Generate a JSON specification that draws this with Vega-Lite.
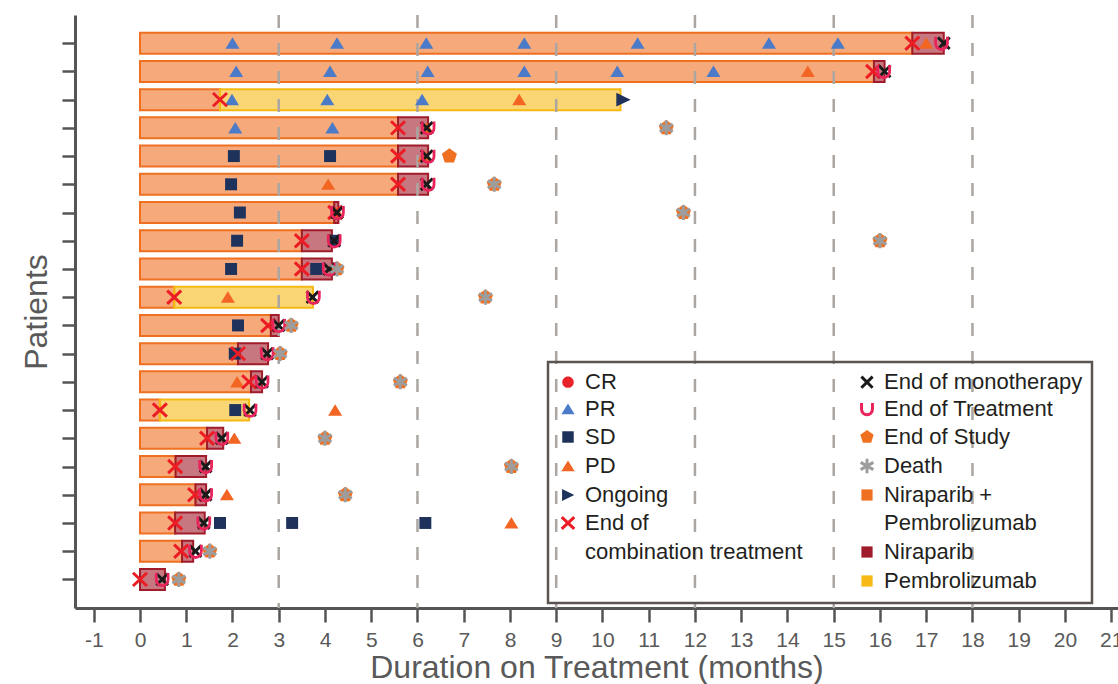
{
"$schema": "https://vega.github.io/schema/vega-lite/v6.json",
"autosize": "none",
"width": 1043,
"height": 593,
"padding": {"left": 75, "top": 15, "right": 0, "bottom": 76},
"background": "white",
"config": {"view": {"stroke": null}, "font": "Liberation Sans", "legend": {"strokeWidth": 2.5}},
"datasets": {
"bars": [
{"r":1,"s":0,"e":16.7,"k":"Niraparib + Pembrolizumab"},{"r":1,"s":16.7,"e":17.38,"k":"Niraparib"},
{"r":2,"s":0,"e":15.87,"k":"Niraparib + Pembrolizumab"},{"r":2,"s":15.87,"e":16.1,"k":"Niraparib"},
{"r":3,"s":0,"e":1.73,"k":"Niraparib + Pembrolizumab"},{"r":3,"s":1.73,"e":10.39,"k":"Pembrolizumab"},
{"r":4,"s":0,"e":5.58,"k":"Niraparib + Pembrolizumab"},{"r":4,"s":5.58,"e":6.23,"k":"Niraparib"},
{"r":5,"s":0,"e":5.58,"k":"Niraparib + Pembrolizumab"},{"r":5,"s":5.58,"e":6.23,"k":"Niraparib"},
{"r":6,"s":0,"e":5.58,"k":"Niraparib + Pembrolizumab"},{"r":6,"s":5.58,"e":6.23,"k":"Niraparib"},
{"r":7,"s":0,"e":4.2,"k":"Niraparib + Pembrolizumab"},{"r":7,"s":4.2,"e":4.29,"k":"Niraparib"},
{"r":8,"s":0,"e":3.5,"k":"Niraparib + Pembrolizumab"},{"r":8,"s":3.5,"e":4.15,"k":"Niraparib"},
{"r":9,"s":0,"e":3.5,"k":"Niraparib + Pembrolizumab"},{"r":9,"s":3.5,"e":4.15,"k":"Niraparib"},
{"r":10,"s":0,"e":0.74,"k":"Niraparib + Pembrolizumab"},{"r":10,"s":0.74,"e":3.74,"k":"Pembrolizumab"},
{"r":11,"s":0,"e":2.83,"k":"Niraparib + Pembrolizumab"},{"r":11,"s":2.83,"e":3.0,"k":"Niraparib"},
{"r":12,"s":0,"e":2.12,"k":"Niraparib + Pembrolizumab"},{"r":12,"s":2.12,"e":2.77,"k":"Niraparib"},
{"r":13,"s":0,"e":2.4,"k":"Niraparib + Pembrolizumab"},{"r":13,"s":2.4,"e":2.64,"k":"Niraparib"},
{"r":14,"s":0,"e":0.43,"k":"Niraparib + Pembrolizumab"},{"r":14,"s":0.43,"e":2.36,"k":"Pembrolizumab"},
{"r":15,"s":0,"e":1.45,"k":"Niraparib + Pembrolizumab"},{"r":15,"s":1.45,"e":1.8,"k":"Niraparib"},
{"r":16,"s":0,"e":0.77,"k":"Niraparib + Pembrolizumab"},{"r":16,"s":0.77,"e":1.43,"k":"Niraparib"},
{"r":17,"s":0,"e":1.2,"k":"Niraparib + Pembrolizumab"},{"r":17,"s":1.2,"e":1.43,"k":"Niraparib"},
{"r":18,"s":0,"e":0.76,"k":"Niraparib + Pembrolizumab"},{"r":18,"s":0.76,"e":1.4,"k":"Niraparib"},
{"r":19,"s":0,"e":0.91,"k":"Niraparib + Pembrolizumab"},{"r":19,"s":0.91,"e":1.15,"k":"Niraparib"},
{"r":20,"s":0,"e":0.54,"k":"Niraparib"}
],
"grid": [{"t":3},{"t":6},{"t":9},{"t":12},{"t":15},{"t":18}],
"events": [
{"r":1,"t":2.0,"k":"PR"},{"r":1,"t":4.26,"k":"PR"},{"r":1,"t":6.19,"k":"PR"},{"r":1,"t":8.31,"k":"PR"},{"r":1,"t":10.76,"k":"PR"},{"r":1,"t":13.6,"k":"PR"},{"r":1,"t":15.09,"k":"PR"},{"r":1,"t":17.0,"k":"PD"},{"r":1,"t":16.7,"k":"End of combination treatment"},{"r":1,"t":17.38,"k":"End of monotherapy"},{"r":1,"t":17.33,"k":"End of Treatment"},
{"r":2,"t":2.08,"k":"PR"},{"r":2,"t":4.11,"k":"PR"},{"r":2,"t":6.22,"k":"PR"},{"r":2,"t":8.31,"k":"PR"},{"r":2,"t":10.32,"k":"PR"},{"r":2,"t":12.4,"k":"PR"},{"r":2,"t":14.44,"k":"PD"},{"r":2,"t":15.85,"k":"End of combination treatment"},{"r":2,"t":16.1,"k":"End of monotherapy"},{"r":2,"t":16.08,"k":"End of Treatment"},
{"r":3,"t":1.73,"k":"End of combination treatment"},{"r":3,"t":1.99,"k":"PR"},{"r":3,"t":4.05,"k":"PR"},{"r":3,"t":6.1,"k":"PR"},{"r":3,"t":8.2,"k":"PD"},{"r":3,"t":10.45,"k":"Ongoing"},
{"r":4,"t":2.06,"k":"PR"},{"r":4,"t":4.16,"k":"PR"},{"r":4,"t":5.58,"k":"End of combination treatment"},{"r":4,"t":6.2,"k":"PD"},{"r":4,"t":6.2,"k":"End of monotherapy"},{"r":4,"t":6.23,"k":"End of Treatment"},{"r":4,"t":11.38,"k":"End of Study"},{"r":4,"t":11.38,"k":"Death"},
{"r":5,"t":2.03,"k":"SD"},{"r":5,"t":4.11,"k":"SD"},{"r":5,"t":5.58,"k":"End of combination treatment"},{"r":5,"t":6.15,"k":"PD"},{"r":5,"t":6.2,"k":"End of monotherapy"},{"r":5,"t":6.23,"k":"End of Treatment"},{"r":5,"t":6.69,"k":"End of Study"},
{"r":6,"t":1.97,"k":"SD"},{"r":6,"t":4.07,"k":"PD"},{"r":6,"t":5.58,"k":"End of combination treatment"},{"r":6,"t":6.2,"k":"End of monotherapy"},{"r":6,"t":6.23,"k":"End of Treatment"},{"r":6,"t":7.66,"k":"End of Study"},{"r":6,"t":7.66,"k":"Death"},
{"r":7,"t":2.16,"k":"SD"},{"r":7,"t":4.26,"k":"PD"},{"r":7,"t":4.22,"k":"End of combination treatment"},{"r":7,"t":4.26,"k":"End of monotherapy"},{"r":7,"t":4.27,"k":"End of Treatment"},{"r":7,"t":11.75,"k":"End of Study"},{"r":7,"t":11.75,"k":"Death"},
{"r":8,"t":2.1,"k":"SD"},{"r":8,"t":3.5,"k":"End of combination treatment"},{"r":8,"t":4.2,"k":"SD"},{"r":8,"t":4.2,"k":"End of monotherapy"},{"r":8,"t":4.2,"k":"End of Treatment"},{"r":8,"t":16.0,"k":"End of Study"},{"r":8,"t":16.0,"k":"Death"},
{"r":9,"t":1.97,"k":"SD"},{"r":9,"t":3.81,"k":"SD"},{"r":9,"t":3.5,"k":"End of combination treatment"},{"r":9,"t":4.09,"k":"End of monotherapy"},{"r":9,"t":4.09,"k":"End of Treatment"},{"r":9,"t":4.26,"k":"End of Study"},{"r":9,"t":4.26,"k":"Death"},
{"r":10,"t":0.74,"k":"End of combination treatment"},{"r":10,"t":1.9,"k":"PD"},{"r":10,"t":3.73,"k":"End of monotherapy"},{"r":10,"t":3.75,"k":"End of Treatment"},{"r":10,"t":7.47,"k":"End of Study"},{"r":10,"t":7.47,"k":"Death"},
{"r":11,"t":2.12,"k":"SD"},{"r":11,"t":2.77,"k":"End of combination treatment"},{"r":11,"t":3.0,"k":"End of monotherapy"},{"r":11,"t":3.0,"k":"End of Treatment"},{"r":11,"t":3.27,"k":"End of Study"},{"r":11,"t":3.27,"k":"Death"},
{"r":12,"t":2.05,"k":"SD"},{"r":12,"t":2.12,"k":"End of combination treatment"},{"r":12,"t":2.75,"k":"End of monotherapy"},{"r":12,"t":2.75,"k":"End of Treatment"},{"r":12,"t":3.03,"k":"End of Study"},{"r":12,"t":3.03,"k":"Death"},
{"r":13,"t":2.1,"k":"PD"},{"r":13,"t":2.36,"k":"End of combination treatment"},{"r":13,"t":2.64,"k":"End of monotherapy"},{"r":13,"t":2.64,"k":"End of Treatment"},{"r":13,"t":5.63,"k":"End of Study"},{"r":13,"t":5.63,"k":"Death"},
{"r":14,"t":0.43,"k":"End of combination treatment"},{"r":14,"t":2.06,"k":"SD"},{"r":14,"t":2.38,"k":"End of monotherapy"},{"r":14,"t":2.38,"k":"End of Treatment"},{"r":14,"t":4.22,"k":"PD"},
{"r":15,"t":1.45,"k":"End of combination treatment"},{"r":15,"t":1.77,"k":"End of monotherapy"},{"r":15,"t":1.77,"k":"End of Treatment"},{"r":15,"t":2.04,"k":"PD"},{"r":15,"t":4.0,"k":"End of Study"},{"r":15,"t":4.0,"k":"Death"},
{"r":16,"t":0.76,"k":"End of combination treatment"},{"r":16,"t":1.42,"k":"End of monotherapy"},{"r":16,"t":1.42,"k":"End of Treatment"},{"r":16,"t":8.03,"k":"End of Study"},{"r":16,"t":8.03,"k":"Death"},
{"r":17,"t":1.19,"k":"End of combination treatment"},{"r":17,"t":1.42,"k":"End of monotherapy"},{"r":17,"t":1.42,"k":"End of Treatment"},{"r":17,"t":1.88,"k":"PD"},{"r":17,"t":4.44,"k":"End of Study"},{"r":17,"t":4.44,"k":"Death"},
{"r":18,"t":0.76,"k":"End of combination treatment"},{"r":18,"t":1.38,"k":"End of monotherapy"},{"r":18,"t":1.38,"k":"End of Treatment"},{"r":18,"t":1.73,"k":"SD"},{"r":18,"t":3.29,"k":"SD"},{"r":18,"t":6.17,"k":"SD"},{"r":18,"t":8.03,"k":"PD"},
{"r":19,"t":0.89,"k":"End of combination treatment"},{"r":19,"t":1.2,"k":"End of monotherapy"},{"r":19,"t":1.2,"k":"End of Treatment"},{"r":19,"t":1.51,"k":"End of Study"},{"r":19,"t":1.51,"k":"Death"},
{"r":20,"t":0.0,"k":"End of combination treatment"},{"r":20,"t":0.48,"k":"End of monotherapy"},{"r":20,"t":0.48,"k":"End of Treatment"},{"r":20,"t":0.84,"k":"End of Study"},{"r":20,"t":0.84,"k":"Death"}
]
},
"layer": [
{
"data": {"name": "bars"},
"mark": {"type": "bar", "height": 21, "fillOpacity": 0.6, "opacity": 1},
"encoding": {
"x": {"field": "s", "type": "quantitative",
 "scale": {"domain": [-1.405, 21.147], "nice": false, "zero": false},
 "axis": {"title": "Duration on Treatment (months)", "values": [-1,0,1,2,3,4,5,6,7,8,9,10,11,12,13,14,15,16,17,18,19,20,21],
  "tickCount": 30, "labelExpr": "'' + datum.value", "grid": false, "tickSize": 14, "tickWidth": 2.5, "tickColor": "#555555",
  "domainColor": "#555555", "domainWidth": 3, "labelFontSize": 21, "labelColor": "#595959", "labelPadding": 7,
  "labelFont": "Liberation Sans", "titleFont": "Liberation Sans", "titleFontSize": 32, "titleFontWeight": "normal",
  "titleColor": "#595959", "titlePadding": 2, "labelFlush": false, "labelOverlap": false}},
"x2": {"field": "e"},
"y": {"field": "r", "type": "quantitative",
 "scale": {"domain": [0.178, 20.836], "reverse": true, "nice": false, "zero": false},
 "axis": {"title": "Patients", "values": [1,2,3,4,5,6,7,8,9,10,11,12,13,14,15,16,17,18,19,20],
  "tickCount": 25, "labels": false, "grid": false, "tickSize": 13, "tickWidth": 2.5, "tickColor": "#555555",
  "domainColor": "#555555", "domainWidth": 3, "titleFont": "Liberation Sans", "titleFontSize": 32,
  "titleFontWeight": "normal", "titleColor": "#595959", "titlePadding": 7}},
"fill": {"field": "k", "type": "nominal",
 "scale": {
  "domain": ["CR","PR","SD","PD","Ongoing","End of combination treatment","combination treatment","  ","End of monotherapy","End of Treatment","End of Study","Death","Niraparib + Pembrolizumab"," Pembrolizumab","Niraparib","Pembrolizumab"],
  "range": ["#E8232A","#4B7BC8","#1E325C","#F26522","#1E325C","#EC1C24","transparent","transparent","#1A1A1A","#E8245A","#F07022","#9D9D9D","#F07022","transparent","#A01C2A","#F7B916"]},
 "legend": {
  "title": null, "orient": "none", "legendX": 473, "legendY": 347, "columns": 2, "columnPadding": 51,
  "rowPadding": 3, "padding": 9, "strokeColor": "#5C5450", "labelFontSize": 22, "labelFont": "Liberation Sans",
  "labelColor": "#231F20", "labelLimit": 400, "symbolSize": 196, "symbolStrokeWidth": 3, "labelOffset": 6,
  "labelExpr": "datum.value === 'End of combination treatment' ? 'End of' : datum.value === 'Niraparib + Pembrolizumab' ? 'Niraparib +' : trim(datum.label)"
 }}
}
},
{
"data": {"name": "bars"},
"mark": {"type": "bar", "height": 21, "filled": false, "strokeWidth": 2, "opacity": 1},
"encoding": {
"x": {"field": "s", "type": "quantitative"},
"x2": {"field": "e"},
"y": {"field": "r", "type": "quantitative"},
"color": {"field": "k", "type": "nominal",
 "scale": {"domain": ["Niraparib + Pembrolizumab","Niraparib","Pembrolizumab"], "range": ["#F07022","#A01C2A","#F5B914"]},
 "legend": null}
}
},
{
"data": {"name": "grid"},
"mark": {"type": "rule", "strokeDash": [13, 15], "strokeWidth": 2.5, "color": "#ABA6A1"},
"encoding": {"x": {"field": "t", "type": "quantitative"}}
},
{
"data": {"name": "events"},
"transform": [{"filter": {"field": "k", "oneOf": ["PR", "PD"]}}],
"mark": {"type": "point", "size": 219, "opacity": 1, "strokeWidth": 0},
"encoding": {"x": {"field": "t", "type": "quantitative"}, "y": {"field": "r", "type": "quantitative"},
 "fill": {"field": "k", "type": "nominal"},
 "stroke": {"field": "k", "type": "nominal",
  "scale": {
   "domain": ["CR","PR","SD","PD","Ongoing","End of combination treatment","combination treatment","  ","End of monotherapy","End of Treatment","End of Study","Death","Niraparib + Pembrolizumab"," Pembrolizumab","Niraparib","Pembrolizumab"],
   "range": ["transparent","transparent","transparent","transparent","transparent","#EC1C24","transparent","transparent","#1A1A1A","#E8245A","transparent","#9D9D9D","transparent","transparent","transparent","transparent"]},
  "legend": {"title": null}},
 "shape": {"field": "k", "type": "nominal",
  "scale": {
   "domain": ["CR","PR","SD","PD","Ongoing","End of combination treatment","combination treatment","  ","End of monotherapy","End of Treatment","End of Study","Death","Niraparib + Pembrolizumab"," Pembrolizumab","Niraparib","Pembrolizumab"],
   "range": ["M0.82,0A0.82,0.82 0 1 1 -0.82,0A0.82,0.82 0 1 1 0.82,0Z","M0,-0.8L0.95,0.75L-0.95,0.75Z","M-0.82,-0.82H0.82V0.82H-0.82Z","M0,-0.8L0.95,0.75L-0.95,0.75Z","M-0.85,-0.85L0.9,0L-0.85,0.85Z","M-0.9,-0.85L0.9,0.85M-0.9,0.85L0.9,-0.85","square","square","M-0.8,-0.8L0.8,0.8M-0.8,0.8L0.8,-0.8","M-0.78,-0.85L-0.78,0.05A0.78,0.78 0 0 0 0.78,0.05L0.78,-0.85L0.78,0.05A0.78,0.78 0 0 1 -0.78,0.05","M0,-1L0.951,-0.309L0.588,0.809L-0.588,0.809L-0.951,-0.309Z","M0,-1.05L0,1.05M-0.91,-0.52L0.91,0.52M-0.91,0.52L0.91,-0.52","M-0.8,-0.8H0.8V0.8H-0.8Z","square","M-0.8,-0.8H0.8V0.8H-0.8Z","M-0.8,-0.8H0.8V0.8H-0.8Z"]},
  "legend": {"title": null}}}
},
{
"data": {"name": "events"},
"transform": [{"filter": {"field": "k", "equal": "SD"}}],
"mark": {"type": "point", "size": 213, "opacity": 1, "strokeWidth": 0},
"encoding": {"x": {"field": "t", "type": "quantitative"}, "y": {"field": "r", "type": "quantitative"}, "fill": {"field": "k", "type": "nominal"}, "stroke": {"field": "k", "type": "nominal"}, "shape": {"field": "k", "type": "nominal"}}
},
{
"data": {"name": "events"},
"transform": [{"filter": {"field": "k", "equal": "Ongoing"}}],
"mark": {"type": "point", "size": 269, "opacity": 1, "strokeWidth": 0},
"encoding": {"x": {"field": "t", "type": "quantitative"}, "y": {"field": "r", "type": "quantitative"}, "fill": {"field": "k", "type": "nominal"}, "stroke": {"field": "k", "type": "nominal"}, "shape": {"field": "k", "type": "nominal"}}
},
{
"data": {"name": "events"},
"transform": [{"filter": {"field": "k", "equal": "End of Study"}}],
"mark": {"type": "point", "size": 250, "opacity": 1, "strokeWidth": 0},
"encoding": {"x": {"field": "t", "type": "quantitative"}, "y": {"field": "r", "type": "quantitative"}, "fill": {"field": "k", "type": "nominal"}, "stroke": {"field": "k", "type": "nominal"}, "shape": {"field": "k", "type": "nominal"}}
},
{
"data": {"name": "events"},
"transform": [{"filter": {"field": "k", "equal": "End of combination treatment"}}],
"mark": {"type": "point", "size": 243, "opacity": 1, "strokeWidth": 3},
"encoding": {"x": {"field": "t", "type": "quantitative"}, "y": {"field": "r", "type": "quantitative"}, "fill": {"field": "k", "type": "nominal"}, "stroke": {"field": "k", "type": "nominal"}, "shape": {"field": "k", "type": "nominal"}}
},
{
"data": {"name": "events"},
"transform": [{"filter": {"field": "k", "equal": "End of monotherapy"}}],
"mark": {"type": "point", "size": 215, "opacity": 1, "strokeWidth": 3},
"encoding": {"x": {"field": "t", "type": "quantitative"}, "y": {"field": "r", "type": "quantitative"}, "fill": {"field": "k", "type": "nominal"}, "stroke": {"field": "k", "type": "nominal"}, "shape": {"field": "k", "type": "nominal"}}
},
{
"data": {"name": "events"},
"transform": [{"filter": {"field": "k", "equal": "End of Treatment"}}],
"mark": {"type": "point", "size": 230, "opacity": 1, "strokeWidth": 2.8},
"encoding": {"x": {"field": "t", "type": "quantitative"}, "y": {"field": "r", "type": "quantitative"}, "fill": {"field": "k", "type": "nominal"}, "stroke": {"field": "k", "type": "nominal"}, "shape": {"field": "k", "type": "nominal"}}
},
{
"data": {"name": "events"},
"transform": [{"filter": {"field": "k", "equal": "Death"}}],
"mark": {"type": "point", "size": 204, "opacity": 1, "strokeWidth": 3},
"encoding": {"x": {"field": "t", "type": "quantitative"}, "y": {"field": "r", "type": "quantitative"}, "fill": {"field": "k", "type": "nominal"}, "stroke": {"field": "k", "type": "nominal"}, "shape": {"field": "k", "type": "nominal"}}
}
]
}
